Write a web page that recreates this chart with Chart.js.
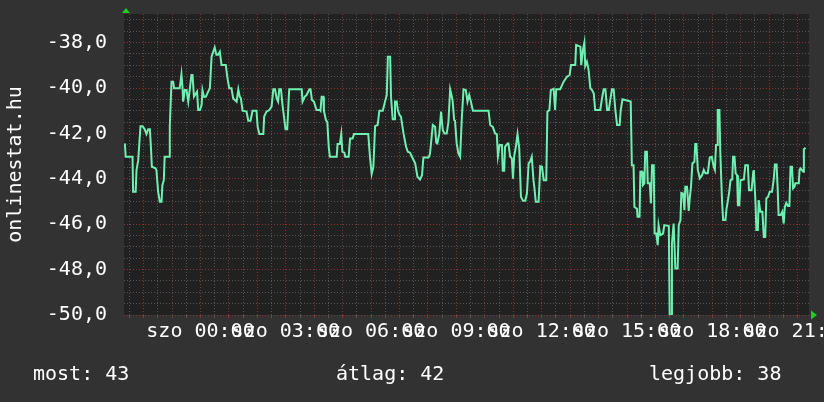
<!DOCTYPE html>
<html>
<head>
<meta charset="utf-8">
<script src="https://cdn.jsdelivr.net/npm/chart.js@4.4.1/dist/chart.umd.min.js"></script>
<style>
  html, body { margin: 0; padding: 0; background: #323232; }
  canvas { display: block; }
</style>
</head>
<body>
<canvas id="chart" width="824" height="402"></canvas>
<script>
// --- DATA ---
const dayName = 'szo';
const labelHours = [0, 3, 6, 9, 12, 15, 18, 21];
const yLabelValues = [-50, -48, -46, -44, -42, -40, -38];
const axisTitle = 'onlinestat.hu';
const summary = ['most: 43', 'átlag: 42', 'legjobb: 38'];

// hours from szo 00:00
const hours = [
  -2.66, -2.63, -2.39, -2.37, -2.28, -2.25, -2.19, -2.11, -2.04, -1.96, -1.90, -1.84, -1.78, -1.75, -1.71,
  -1.58, -1.55, -1.49, -1.43, -1.37, -1.34, -1.29, -1.26, -1.10, -1.08, -1.02, -0.96, -0.93, -0.73, -0.67,
  -0.63, -0.61, -0.55, -0.49, -0.43, -0.38, -0.32, -0.28, -0.23, -0.12, -0.08, -0.02, 0.04, 0.07, 0.12,
  0.19, 0.27, 0.33, 0.39, 0.45, 0.50, 0.56, 0.62, 0.68, 0.74, 0.89, 0.94, 1.01, 1.09, 1.15,
  1.27, 1.33, 1.38, 1.42, 1.48, 1.62, 1.68, 1.76, 1.83, 1.97, 2.01, 2.07, 2.21, 2.24, 2.32,
  2.42, 2.50, 2.56, 2.62, 2.68, 2.73, 2.77, 2.83, 2.89, 2.93, 2.99, 3.05, 3.12, 3.56, 3.59,
  3.67, 3.73, 3.83, 3.87, 3.92, 3.99, 4.08, 4.20,
  4.22, 4.26, 4.32, 4.34, 4.41, 4.46, 4.51, 4.55, 4.79, 4.82, 4.90, 4.95, 4.99, 5.06, 5.09,
  5.21, 5.26, 5.35, 5.40, 5.90, 5.96, 6.02, 6.08, 6.14, 6.23, 6.29, 6.41, 6.49, 6.55, 6.59,
  6.67, 6.70, 6.76, 6.81, 6.84, 6.90, 6.94, 7.00, 7.05, 7.14, 7.23, 7.29, 7.37, 7.45, 7.55,
  7.63, 7.72, 7.79, 7.84, 8.02, 8.07, 8.17, 8.25, 8.29, 8.33, 8.40, 8.46, 8.52, 8.58, 8.66,
  8.72, 8.78, 8.84, 8.87, 8.92, 8.95, 9.01, 9.07, 9.13, 9.19, 9.25, 9.33, 9.39, 9.45, 9.51,
  9.58, 10.13, 10.19, 10.28, 10.36, 10.42, 10.46, 10.52, 10.60, 10.63, 10.68, 10.71, 10.80, 10.83, 10.89,
  10.95, 10.99, 11.03, 11.10, 11.15, 11.21, 11.27, 11.34, 11.42, 11.48, 11.54, 11.59, 11.65, 11.71, 11.74,
  11.79, 11.89, 11.95, 12.01, 12.07, 12.16, 12.20, 12.27, 12.32, 12.42, 12.47, 12.51, 12.65, 12.77, 12.89,
  12.98, 13.03, 13.18, 13.21, 13.36, 13.39, 13.45, 13.50, 13.53, 13.59, 13.65, 13.71, 13.77, 13.83, 13.88,
  14.06, 14.12, 14.18, 14.24, 14.30, 14.36, 14.41, 14.47, 14.53, 14.59, 14.65, 14.74,
  14.78, 14.84, 15.13, 15.17, 15.23, 15.26, 15.35, 15.37, 15.44, 15.47, 15.53, 15.56, 15.61, 15.64, 15.70,
  15.73, 15.80, 15.84, 15.88, 15.94, 15.97, 16.03, 16.08, 16.11, 16.17, 16.27, 16.31, 16.47, 16.50, 16.55,
  16.58, 16.64, 16.70, 16.78, 16.82, 16.88, 16.91, 16.97, 17.02, 17.05, 17.11, 17.17, 17.20, 17.25, 17.30,
  17.37, 17.40, 17.44, 17.49, 17.56, 17.64, 17.70, 17.76, 17.84, 17.91, 17.98, 18.05, 18.09, 18.13, 18.17,
  18.19, 18.25, 18.28, 18.34, 18.38, 18.46, 18.50, 18.54, 18.59, 18.64, 18.70, 18.73, 18.78, 18.82, 18.87,
  18.90, 18.95, 18.99, 19.11, 19.16, 19.25, 19.29, 19.38, 19.44, 19.46, 19.52, 19.55, 19.60, 19.63, 19.69,
  19.76, 19.81, 19.86, 19.90, 19.96, 20.02, 20.10, 20.16, 20.20, 20.26, 20.30, 20.33, 20.40, 20.46, 20.51,
  20.55, 20.60, 20.66, 20.71, 20.75, 20.80, 20.84, 20.89, 20.92, 21.04, 21.07, 21.10, 21.20, 21.22, 21.28
];

const signal = [
  -42.44, -43.03, -43.03, -44.57, -44.57, -43.62, -43.18, -41.68, -41.68, -41.82, -42.03, -41.82, -41.82, -42.44, -43.47,
  -43.54, -43.62, -44.57, -45.01, -45.01, -44.28, -44.06, -43.03, -43.03, -41.71, -39.72, -39.72, -40.01, -40.01, -39.40,
  -40.01, -40.60, -40.09, -40.09, -40.60, -40.09, -39.43, -39.43, -40.38, -40.16, -40.97, -40.97, -40.75, -40.09, -40.38,
  -40.38, -40.16, -40.01, -38.62, -38.40, -38.21, -38.54, -38.54, -38.40, -38.99, -38.99, -39.50, -40.01, -40.01, -40.46,
  -40.60, -40.06, -40.38, -40.46, -41.00, -41.04, -41.44, -41.44, -41.00, -41.00, -41.71, -42.03, -42.03, -41.26, -41.04,
  -40.97, -40.82, -40.06, -40.06, -40.46, -40.60, -40.06, -40.06, -40.82, -41.19, -41.82, -41.82, -40.06, -40.06, -40.60,
  -40.38, -40.31, -40.06, -40.06, -40.53, -40.60, -40.97, -40.97,
  -41.00, -40.38, -40.38, -41.00, -41.41, -41.49, -42.59, -43.03, -43.03, -42.47, -42.47, -42.03, -42.81, -42.85, -43.03,
  -43.03, -42.22, -42.22, -42.03, -42.03, -43.03, -43.79, -43.47, -41.68, -41.63, -41.00, -41.00, -40.60, -40.31, -38.62,
  -38.62, -40.38, -41.38, -41.38, -40.60, -40.60, -40.97, -41.19, -41.26, -42.00, -42.59, -42.81, -42.85, -43.06, -43.32,
  -43.91, -44.03, -43.84, -43.06, -43.06, -42.91, -41.63, -41.71, -42.41, -42.44, -42.00, -41.04, -41.85, -42.00, -42.00,
  -41.49, -40.06, -40.38, -40.60, -41.41, -41.44, -42.44, -42.88, -43.03, -41.34, -40.06, -40.09, -40.60, -40.31, -40.60,
  -41.00, -41.00, -41.63, -41.71, -42.00, -42.03, -43.00, -42.51, -42.51, -43.65, -43.65, -42.59, -42.44, -42.44, -43.03,
  -43.10, -43.99, -43.03, -42.51, -42.03, -42.66, -44.79, -44.97, -44.97, -44.65, -43.32, -43.25, -43.03, -44.06, -44.35,
  -45.01, -45.01, -43.44, -43.47, -44.06, -44.06, -41.04, -40.97, -40.09, -40.03, -40.97, -40.06, -40.06, -39.72, -39.50,
  -39.43, -38.99, -38.99, -38.10, -38.18, -38.99, -38.32, -38.00, -39.03, -38.84, -39.21, -40.01, -40.09, -40.24, -40.97,
  -40.97, -40.46, -40.06, -40.06, -40.97, -40.97, -40.53, -40.06, -40.06, -40.97, -41.63, -41.63,
  -40.97, -40.50, -40.60, -43.40, -43.40, -45.24, -45.32, -45.67, -45.67, -43.69, -43.69, -44.28, -44.20, -42.81, -42.81,
  -44.20, -44.20, -45.09, -43.40, -43.40, -46.41, -46.41, -46.92, -46.04, -46.48, -46.41, -46.04, -46.08, -50.01, -50.01,
  -46.85, -45.97, -47.95, -47.95, -46.04, -45.82, -44.62, -44.65, -45.38, -44.35, -44.35, -45.41, -44.94, -44.35, -43.32,
  -43.25, -42.47, -42.47, -43.61, -43.98, -43.84, -43.61, -43.76, -43.76, -43.06, -43.03, -43.47, -43.61, -42.51, -42.51,
  -40.97, -40.97, -42.81, -44.94, -45.82, -45.82, -45.31, -45.02, -44.62, -44.06, -44.03, -43.03, -43.03, -43.76, -43.84,
  -45.16, -45.16, -44.06, -44.03, -43.40, -43.40, -44.50, -44.50, -43.69, -43.61, -45.09, -46.26, -46.26, -44.94, -45.45,
  -45.45, -46.56, -46.56, -44.86, -44.79, -44.57, -44.57, -44.03, -43.37, -43.37, -44.50, -45.60, -45.60, -45.45, -45.97,
  -45.24, -45.06, -45.20, -45.20, -43.47, -43.47, -44.42, -44.35, -44.20, -44.20, -43.59, -43.54, -43.69, -42.70, -42.63
];

// --- STYLE ---
const FONT = 'DejaVu Sans Mono';
const BG = '#323232';
const PLOT_BG = '#212121';
const GRID_MINOR = '#555555';
const GRID_MAJOR = '#7e3838';
const LINE = '#6ff0b2';
const ARROW = '#1ecf1e';

Chart.defaults.font.family = FONT;
Chart.defaults.font.size = 20;
Chart.defaults.color = '#ffffff';

function halfSteps(from, to) {
  const t = [];
  for (let v = from; v <= to + 1e-9; v += 0.5) t.push({ value: v });
  return t;
}

const backdrop = {
  id: 'backdrop',
  beforeDraw(chart) {
    const { ctx, chartArea: a } = chart;
    ctx.save();
    ctx.fillStyle = BG;
    ctx.fillRect(0, 0, chart.width, chart.height);
    ctx.fillStyle = PLOT_BG;
    ctx.fillRect(a.left, a.top, a.right - a.left, a.bottom - a.top);
    ctx.restore();
  },
  afterDraw(chart) {
    const { ctx, chartArea: a } = chart;
    ctx.save();
    // axis arrows
    ctx.fillStyle = ARROW;
    ctx.beginPath();
    ctx.moveTo(a.left - 2, a.top - 1);
    ctx.lineTo(a.left + 6, a.top - 1);
    ctx.lineTo(a.left + 2, a.top - 6);
    ctx.closePath();
    ctx.fill();
    ctx.beginPath();
    ctx.moveTo(a.right + 2, a.bottom - 4.5);
    ctx.lineTo(a.right + 2, a.bottom + 4.5);
    ctx.lineTo(a.right + 8, a.bottom);
    ctx.closePath();
    ctx.fill();
    // summary line
    ctx.fillStyle = '#ffffff';
    ctx.font = '20px "' + FONT + '"';
    ctx.textBaseline = 'middle';
    const xs = [33, 336, 649];
    summary.forEach((s, i) => ctx.fillText(s, xs[i], 375));
    ctx.restore();
  }
};

new Chart(document.getElementById('chart'), {
  type: 'line',
  data: {
    datasets: [{
      data: hours.map((h, i) => ({ x: h, y: signal[i] })),
      borderColor: LINE,
      borderWidth: 2,
      pointRadius: 0,
      tension: 0,
      fill: false
    }]
  },
  options: {
    responsive: false,
    animation: false,
    devicePixelRatio: 1,
    layout: { padding: { top: 14, right: 15, left: 0, bottom: 0 } },
    plugins: { legend: { display: false }, tooltip: { enabled: false } },
    scales: {
      x: {
        type: 'linear',
        min: -2.69,
        max: 21.40,
        afterBuildTicks: axis => { axis.ticks = halfSteps(-2.5, 21); },
        afterFit: axis => { axis.height = 87; axis.paddingLeft = 0; axis.paddingRight = 0; },
        ticks: {
          autoSkip: false,
          maxRotation: 0,
          minRotation: 0,
          padding: 2,
          color: '#ffffff',
          callback: v => labelHours.includes(v) ? dayName + ' ' + String(v).padStart(2, '0') + ':00' : ''
        },
        grid: {
          color: c => (c.tick && Number.isInteger(c.tick.value)) ? GRID_MAJOR : GRID_MINOR,
          lineWidth: 1,
          drawTicks: true,
          tickLength: 3
        },
        border: { display: false, dash: [1, 2] }
      },
      y: {
        min: -50,
        max: -36.74,
        afterBuildTicks: axis => { axis.ticks = halfSteps(-50, -37); },
        afterFit: axis => { axis.width = 124; axis.paddingTop = 0; axis.paddingBottom = 0; },
        ticks: {
          autoSkip: false,
          padding: 17,
          color: '#ffffff',
          callback: v => yLabelValues.includes(v) ? v.toFixed(1).replace('.', ',') : ''
        },
        grid: {
          color: c => (c.tick && c.tick.value % 2 === 0) ? GRID_MAJOR : GRID_MINOR,
          lineWidth: 1,
          drawTicks: false
        },
        border: { display: false, dash: [1, 2] },
        title: {
          display: true,
          text: axisTitle,
          color: '#ffffff',
          font: { size: 20 },
          padding: { top: 4, bottom: 4 }
        }
      }
    }
  },
  plugins: [backdrop]
});
</script>
</body>
</html>
